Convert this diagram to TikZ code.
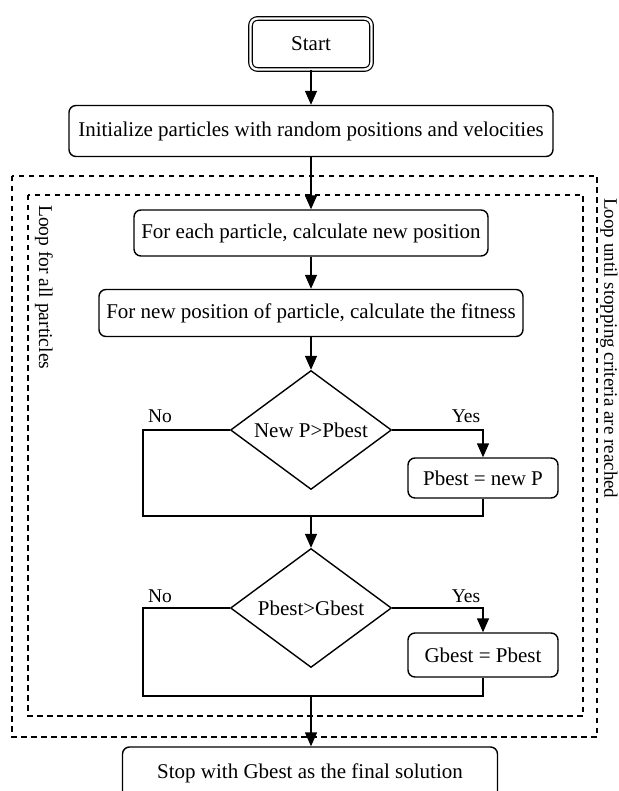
\documentclass[tikz,border=0pt]{standalone}
\usepackage{fontspec}
\setmainfont{Liberation Serif}
\usetikzlibrary{shapes.geometric,arrows.meta,positioning}

\tikzset{
  box/.style={draw, rounded corners=7pt, line width=1.4pt, align=center, inner sep=0pt, fill=white},
  startbox/.style={box, double, double distance=2.4pt, line width=1.2pt},
  decision/.style={diamond, draw, line width=1.4pt, aspect=1.36, inner sep=0pt,
    minimum width=161pt, minimum height=119pt},
  loopframe/.style={line width=1.8pt, dash pattern=on 5.5pt off 4.5pt},
  flow/.style={line width=1.4pt, -{Triangle[length=14pt,width=12pt]}},
  link/.style={line width=1.4pt},
  tag/.style={font=\fontsize{19.5}{23}\selectfont, inner sep=0pt},
}

\begin{document}
\begin{tikzpicture}[x=1pt, y=-1pt, font=\fontsize{21}{25}\selectfont]
  \path[use as bounding box, clip] (0,0) rectangle (618,791);

  % the two loops
  \draw[loopframe] (12,176) rectangle (597,737);
  \draw[loopframe] (28,195) rectangle (583,716);
  \node[tag, rotate=-90, anchor=west] (innerlbl) at (44,205) {Loop for all particles};
  \node[tag, font=\fontsize{19}{23}\selectfont, rotate=-90, anchor=west] (outerlbl) at (609,198)
    {Loop until stopping criteria are reached};

  % steps
  \node[startbox, minimum width=121pt, minimum height=51pt] (start) at (311,44) {Start};
  \node[box, minimum width=484pt, minimum height=51pt] (init) at (311,131)
    {Initialize particles with random positions and velocities};
  \node[box, minimum width=354pt, minimum height=46pt] (each) at (311,233)
    {For each particle, calculate new position};
  \node[box, minimum width=424pt, minimum height=47pt] (fit) at (311,313)
    {For new position of particle, calculate the fitness};
  \node[decision] (pnew) at (311,430) {New P>Pbest};
  \node[box, minimum width=150pt, minimum height=40pt] (pbest) at (483,478) {Pbest = new P};
  \node[decision] (gnew) at (311,608) {Pbest>Gbest};
  \node[box, minimum width=150pt, minimum height=44pt] (gbest) at (483,655) {Gbest = Pbest};
  \node[box, minimum width=375pt, minimum height=52pt] (stop) at (310,773)
    {Stop with Gbest as the final solution};

  \node[tag] (no1) at (160,416) {No};
  \node[tag] (yes1) at (466,416) {Yes};
  \node[tag] (no2) at (160,596) {No};
  \node[tag] (yes2) at (466,596) {Yes};

  \coordinate (loop1) at (143,516);
  \coordinate (join1) at (311,516);
  \coordinate (loop2) at (143,696);
  \coordinate (join2) at (311,696);

  % connectors
  \draw[flow] (start) -- (init);
  \draw[flow] (init) -- (each);
  \draw[flow] (each) -- (fit);
  \draw[flow] (fit) -- (pnew);
  \draw[flow] (pnew.east) -| (pbest.north);
  \draw[link] (pnew.west) -| (loop1) -| (pbest.south);
  \draw[flow] (join1) -- (gnew.north);
  \draw[flow] (gnew.east) -| (gbest.north);
  \draw[link] (gnew.west) -| (loop2) -| (gbest.south);
  \draw[flow] (join2) -- (join2 |- stop.north);
\end{tikzpicture}
\end{document}
